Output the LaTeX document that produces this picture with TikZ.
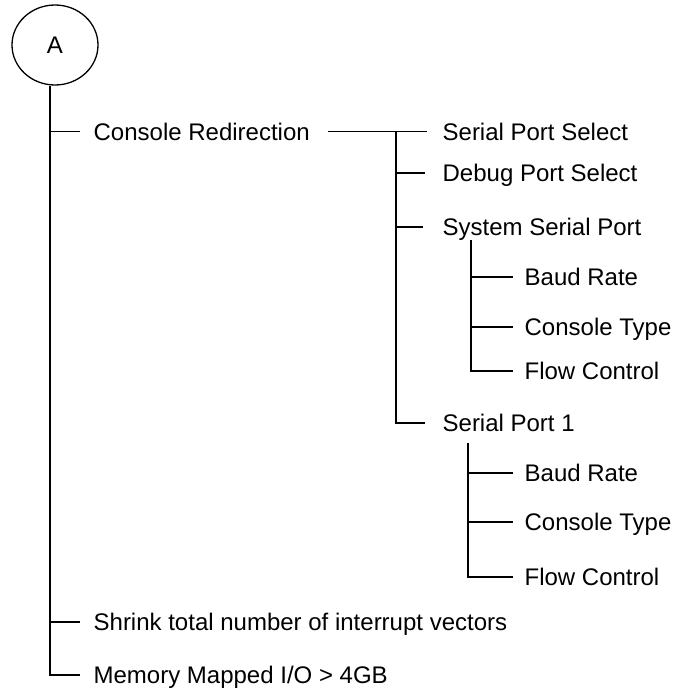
\documentclass[tikz,border=0pt]{standalone}
\usepackage{fontspec}
\setmainfont{Liberation Sans}
\usetikzlibrary{shapes.geometric}
\begin{document}
\begin{tikzpicture}[x=1pt,y=-1pt,line width=1.3pt,
  lbl/.style={anchor=base west,inner sep=0pt,font=\fontsize{24}{28}\selectfont},
  root/.style={draw,ellipse,inner sep=0pt,minimum width=86pt,minimum height=80pt,font=\fontsize{24}{28}\selectfont}]
\useasboundingbox (0,0) rectangle (676,694);
\node[root] (A) at (55,45) {A};
% level 1
\coordinate (m1) at (50,131.5);
\coordinate (m11) at (50,622);
\coordinate (m12) at (50,675);
\node[lbl] (cr) at (93,140.1) {Console Redirection};
\node[lbl] (sh) at (93,630.6) {Shrink total number of interrupt vectors};
\node[lbl] (mm) at (93,683.6) {Memory Mapped I/O > 4GB};
\draw (A.south -| m1) -- (m12) -- ++(30,0);
\draw (m1) -- ++(30,0);
\draw (m11) -- ++(30,0);
% level 2
\coordinate (c0) at (328,131.5);
\coordinate (c1) at (396,131.5);
\coordinate (c2) at (396,173);
\coordinate (c3) at (396,227);
\coordinate (c7) at (396,423);
\node[lbl] (sps) at (442,140.1) {Serial Port Select};
\node[lbl] (dps) at (442,181.6) {Debug Port Select};
\node[lbl] (ssp) at (442,235.6) {System Serial Port};
\node[lbl] (sp1) at (442,431.6) {Serial Port 1};
\draw (c0) -- (c1) -- ++(31,0);
\draw (c1) -- (c7) -- ++(29,0);
\draw (c2) -- ++(29,0);
\draw (c3) -- ++(27,0);
% level 3 (System Serial Port)
\coordinate (s0) at (471,240);
\coordinate (s4) at (471,277);
\coordinate (s5) at (471,327);
\coordinate (s6) at (471,371);
\node[lbl] (br1) at (524,285.6) {Baud Rate};
\node[lbl] (ct1) at (524,335.6) {Console Type};
\node[lbl] (fc1) at (524,379.6) {Flow Control};
\draw (s0) -- (s6) -- ++(42,0);
\draw (s4) -- ++(42,0);
\draw (s5) -- ++(42,0);
% level 3 (Serial Port 1)
\coordinate (t0) at (468,443);
\coordinate (t8) at (468,473);
\coordinate (t9) at (468,522);
\coordinate (t10) at (468,577);
\node[lbl] (br2) at (524,481.6) {Baud Rate};
\node[lbl] (ct2) at (524,530.6) {Console Type};
\node[lbl] (fc2) at (524,585.6) {Flow Control};
\draw (t0) -- (t10) -- ++(45,0);
\draw (t8) -- ++(45,0);
\draw (t9) -- ++(45,0);
\end{tikzpicture}
\end{document}
